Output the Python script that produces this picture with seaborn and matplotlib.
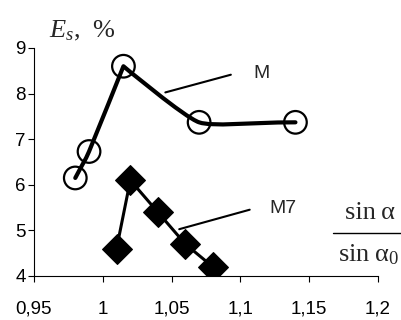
import matplotlib
matplotlib.use("Agg")
import matplotlib.pyplot as plt
from matplotlib.lines import Line2D
from matplotlib.path import Path
from matplotlib.patches import PathPatch
import numpy as np
import seaborn as sns

# series
M_X = [0.98, 0.99, 1.015, 1.07, 1.14]
M_Y = [6.15, 6.73, 8.60, 7.37, 7.37]
M7_X = [1.01, 1.02, 1.04, 1.06, 1.08]
M7_Y = [4.60, 6.10, 5.40, 4.70, 4.20]

X_TICKS = [0.95, 1.0, 1.05, 1.1, 1.15, 1.2]
X_TICK_LABELS = ["0,95", "1", "1,05", "1,1", "1,15", "1,2"]
Y_TICKS = [4, 5, 6, 7, 8, 9]


def smooth_path(xs, ys, sharp=(), k=0.5):
    """Excel-like smoothed line as cubic Bezier segments (sharp points keep a corner)."""
    pts = np.column_stack([xs, ys]).astype(float)
    n = len(pts)
    tang = np.zeros_like(pts)
    for i in range(n):
        if i in sharp:
            continue
        if i == 0:
            tang[i] = (pts[1] - pts[0]) * 3
        elif i == n - 1:
            tang[i] = (pts[-1] - pts[-2]) * 3
        else:
            tang[i] = (pts[i + 1] - pts[i - 1]) / 2
    verts = [pts[0]]
    codes = [Path.MOVETO]
    for i in range(n - 1):
        c1 = pts[i] + tang[i] * k / 3
        c2 = pts[i + 1] - tang[i + 1] * k / 3
        verts += [c1, c2, pts[i + 1]]
        codes += [Path.CURVE4] * 3
    return Path(verts, codes)


sns.set_theme(style="ticks")
plt.rcParams["font.family"] = ["Liberation Sans", "DejaVu Sans"]
plt.rcParams["mathtext.fontset"] = "custom"
plt.rcParams["mathtext.rm"] = "Liberation Serif"
plt.rcParams["mathtext.it"] = "Liberation Serif:italic"

fig = plt.figure(figsize=(4.02, 3.2), dpi=100)
ax = fig.add_axes([34 / 402, 44 / 320, 344 / 402, 228 / 320])

# M: smoothed line with open circles
ax.add_patch(PathPatch(smooth_path(M_X, M_Y, sharp=(2,)), fc="none", ec="black",
                       lw=3.0, capstyle="round", joinstyle="round", zorder=2))
sns.scatterplot(x=M_X, y=M_Y, marker="o", s=265, fc="none", ec="black",
                linewidth=1.6, ax=ax, zorder=3)

# M7: straight line with black diamonds
sns.lineplot(x=M7_X, y=M7_Y, sort=False, color="black", lw=2.2, marker="D",
             markersize=15, markerfacecolor="black", markeredgecolor="black",
             ax=ax, zorder=3)

ax.set_xlim(0.95, 1.2)
ax.set_ylim(4, 9)
ax.set_xticks(X_TICKS)
ax.set_xticklabels(X_TICK_LABELS)
ax.set_yticks(Y_TICKS)
ax.tick_params(axis="both", labelsize=13.5, colors="black", length=4, width=0.8)
ax.tick_params(axis="x", pad=14)
ax.tick_params(axis="y", pad=2)
for side in ["top", "right"]:
    ax.spines[side].set_visible(False)
for side in ["left", "bottom"]:
    ax.spines[side].set_color("black")
    ax.spines[side].set_linewidth(0.8)
ax.set_xlabel("")
ax.set_ylabel("")

# callouts
ax.annotate("", xy=(1.0435, 8.01), xytext=(1.095, 8.43),
            arrowprops=dict(arrowstyle="-", color="black", lw=1.5))
ax.text(1.115, 8.45, "M", fontsize=14, ha="center", va="center")
ax.annotate("", xy=(1.0536, 5.01), xytext=(1.1087, 5.47),
            arrowprops=dict(arrowstyle="-", color="black", lw=1.5))
ax.text(1.131, 5.49, "M7", fontsize=14, ha="center", va="center")

# axis titles
fig.text(49 / 402, 1 - 31 / 320, r"$E_s$,  %", fontsize=19,
         family="Liberation Serif", ha="left", va="center")
fig.text(370 / 402, 1 - 213 / 320, "sin\u2009α", fontsize=19,
         family="Liberation Serif", ha="center", va="center")
fig.text(368 / 402, 1 - 255 / 320, "sin\u2009α$_0$",
         fontsize=19, family="Liberation Serif", ha="center", va="center")
fig.add_artist(Line2D([333 / 402, 1.0], [1 - 233 / 320, 1 - 233 / 320],
                      transform=fig.transFigure, color="black", lw=1.0))

fig.savefig("out.png", dpi=100)
